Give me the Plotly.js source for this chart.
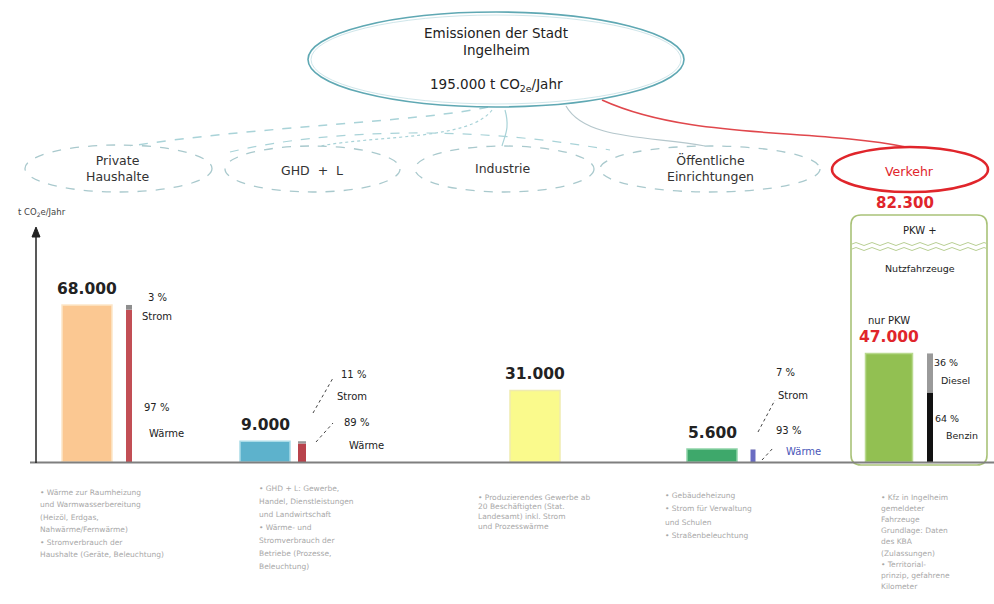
<!DOCTYPE html>
<html>
<head>
<meta charset="utf-8">
<script src="https://cdn.plot.ly/plotly-3.0.1.min.js"></script>
<style>html,body{margin:0;padding:0;background:#fff;}#chart{width:994px;height:604px;}</style>
</head>
<body>
<div id="chart"></div>
<script>
// ---------------- DATA ----------------
const cityTitle = ['Emissionen der Stadt', 'Ingelheim'];
const totalCity = 195000;            // t CO2e/Jahr
const sectors = ['Private Haushalte', 'GHD + L', 'Industrie', 'Öffentliche Einrichtungen', 'Verkehr'];
const sectorLabels = ['Private<br>Haushalte', 'GHD  +  L', 'Industrie', 'Öffentliche<br>Einrichtungen', 'Verkehr'];
const emissions = [68000, 9000, 31000, 5600, 47000];   // Verkehr: nur PKW
const verkehrTotal = 82300;          // PKW + Nutzfahrzeuge
const stromShare = [3, 11, null, 7]; // % Strom
const waermeShare = [97, 89, null, 93]; // % Wärme
const dieselShare = 36;              // % Diesel (PKW)
const benzinShare = 64;              // % Benzin (PKW)
const notes = [
  ['• Wärme zur Raumheizung', 'und Warmwasserbereitung', '(Heizöl, Erdgas,', 'Nahwärme/Fernwärme)', '• Stromverbrauch der', 'Haushalte (Geräte, Beleuchtung)'],
  ['• GHD + L: Gewerbe,', 'Handel, Dienstleistungen', 'und Landwirtschaft', '• Wärme- und', 'Stromverbrauch der', 'Betriebe (Prozesse,', 'Beleuchtung)'],
  ['• Produzierendes Gewerbe ab', '20 Beschäftigten (Stat.', 'Landesamt) inkl. Strom', 'und Prozesswärme'],
  ['• Gebäudeheizung', '• Strom für Verwaltung', 'und Schulen', '• Straßenbeleuchtung'],
  ['• Kfz in Ingelheim', 'gemeldeter', 'Fahrzeuge', 'Grundlage: Daten', 'des KBA', '(Zulassungen)', '• Territorial-', 'prinzip, gefahrene', 'Kilometer']
];

// ---------------- GEOMETRY / STYLE ----------------
const W = 994, H = 604;
const baseY = 462;        // pixel row of the zero line
const tPerPx = 433;       // t CO2e per pixel
const barX = [87, 265, 535, 712, 889];
const barW = [50, 50, 50, 50, 47];
const barColors = ['#FBC892', '#5DB2CC', '#FAFA8C', '#3EA86B', '#92C052'];
const barLines = ['#FDE6C8', '#A9DCE8', '#EFEBB0', '#8ED3A8', '#B9D98E'];
const splitX = [129, 302, null, 753, 930];
const splitW = [6, 8, null, 5, 6];
const waermeColors = ['#C24F55', '#B8434C', null, '#6A6CC2'];
const stromColors = ['#8E8E8E', '#9A9A9A', null, '#A8A8D0'];
const FONT = 'DejaVu Sans, Verdana, sans-serif';
const notePos = [[38, 492, 12.5], [257, 488, 13], [476, 497, 9.8], [663, 495, 13.5], [879, 497, 11.2]];

function fmt(v) { return String(v).replace(/\B(?=(\d{3})+(?!\d))/g, '.'); }

// ---------------- TRACES ----------------
const traces = [];
traces.push({
  type: 'bar', x: barX, y: emissions, width: barW, base: 0,
  marker: {color: barColors, line: {color: barLines, width: 1.5}},
  hoverinfo: 'skip', showlegend: false
});
const sx = [], sw = [], wy = [], sy = [], sb = [], wc = [], sc = [];
for (let i = 0; i < 4; i++) {
  if (stromShare[i] === null) continue;
  sx.push(splitX[i]); sw.push(splitW[i]);
  const w = emissions[i] * waermeShare[i] / 100;
  wy.push(w); sy.push(emissions[i] * stromShare[i] / 100); sb.push(w);
  wc.push(waermeColors[i]); sc.push(stromColors[i]);
}
traces.push({type: 'bar', x: sx, y: wy, width: sw, base: 0, marker: {color: wc}, hoverinfo: 'skip', showlegend: false});
traces.push({type: 'bar', x: sx, y: sy, width: sw, base: sb, marker: {color: sc}, hoverinfo: 'skip', showlegend: false});
const vB = emissions[4] * benzinShare / 100, vD = emissions[4] * dieselShare / 100;
traces.push({type: 'bar', x: [splitX[4]], y: [vB], width: [splitW[4]], base: 0, marker: {color: '#111111'}, hoverinfo: 'skip', showlegend: false});
traces.push({type: 'bar', x: [splitX[4]], y: [vD], width: [splitW[4]], base: [vB], marker: {color: '#9A9A9A'}, hoverinfo: 'skip', showlegend: false});
traces.push({type: 'scatter', x: [], y: [], xaxis: 'x2', yaxis: 'y2', hoverinfo: 'skip', showlegend: false});

// ---------------- SHAPES ----------------
const shapes = [];
const P = {xref: 'x2', yref: 'y2'};
function ell(x0, y0, x1, y1, color, width, dash) {
  shapes.push(Object.assign({type: 'circle', x0, y0, x1, y1, line: {color, width, dash: dash || 'solid'}, fillcolor: 'rgba(255,255,255,0)', layer: 'below'}, P));
}
function path(d, color, width, dash, fill, layer) {
  shapes.push(Object.assign({type: 'path', path: d, line: {color, width, dash: dash || 'solid'}, fillcolor: fill || 'rgba(0,0,0,0)', layer: layer || 'below'}, P));
}
function line(x0, y0, x1, y1, color, width, dash, layer) {
  shapes.push(Object.assign({type: 'line', x0, y0, x1, y1, line: {color, width, dash: dash || 'solid'}, layer: layer || 'above'}, P));
}
const teal = '#A9D3D8';
path('M 488 107 C 420 122, 260 126, 130 146', teal, 1.5, 'dash');
path('M 492 110 C 470 140, 380 135, 320 146', teal, 1.2, 'dot');
path('M 505 110 C 510 128, 505 135, 502 146', teal, 1.2);
path('M 566 106 C 585 140, 650 136, 705 146', '#B5C7CC', 1.2);
path('M 230 152 C 330 128, 480 126, 610 150', teal, 1.2, 'dash');
path('M 602 100 C 690 140, 810 128, 906 147', '#E0474C', 1.5);
ell(308, 12, 684, 107, '#5FA8B3', 1.6);
ell(311, 15, 681, 104, '#CFE6EA', 1);
const ellBoxes = [[25, 145, 212, 192], [225, 146, 400, 192], [415, 146, 594, 192], [600, 146, 820, 192]];
ellBoxes.forEach(b => ell(b[0], b[1], b[2], b[3], '#A9C9CD', 1.3, 'dash'));
ell(832, 147, 988, 192, '#E0252B', 2.6);
path('M 861 215 L 977 215 Q 987 215 987 225 L 987 455 Q 987 465 977 465 L 861 465 Q 851 465 851 455 L 851 225 Q 851 215 861 215 Z', '#A9C278', 1.6, 'solid', 'rgba(255,255,255,0)');
let wave1 = 'M 852 244', wave2 = 'M 852 249';
for (let x = 852, k = 0; x < 986; x += 8, k++) {
  const yo = (k % 2 === 0) ? -3 : 3;
  wave1 += ` Q ${x + 4} ${244 + yo} ${x + 8} 244`;
  wave2 += ` Q ${x + 4} ${249 + yo} ${x + 8} 249`;
}
path(wave1, '#B9CF94', 1); path(wave2, '#B9CF94', 1);
line(30, 462.5, 994, 462.5, '#7F7F7F', 2);
line(36, 463, 36, 234, '#222', 1.5);
path('M 32 237 L 36 227 L 40 237 Z', '#222', 1, 'solid', '#222', 'above');
line(313, 413, 333, 378, '#444', 1, 'dot');
line(316, 442, 333, 423, '#444', 1, 'dot');
line(758, 432, 775, 400, '#444', 1, 'dot');
line(762, 460, 774, 447, '#444', 1, 'dot');

// ---------------- ANNOTATIONS ----------------
const ann = [];
function txt(x, y, text, size, color, opts) {
  ann.push(Object.assign({x, y, text, showarrow: false,
    font: {family: FONT, size, color: color || '#222'}, xanchor: 'center', yanchor: 'middle'}, P, opts || {}));
}
txt(496, 33, cityTitle[0], 13.5);
txt(496, 50, cityTitle[1], 13.5);
txt(496, 85, fmt(totalCity) + ' t CO<sub>2e</sub>/Jahr', 13.5);
const labPos = [[117, 168], [312, 170], [502, 168], [710, 168], [909, 171]];
sectorLabels.forEach((s, i) => txt(labPos[i][0], labPos[i][1], s, 12.5, i === 4 ? '#E0252B' : '#333'));
txt(905, 203, '<b>' + fmt(verkehrTotal) + '</b>', 15, '#E0252B');
txt(42, 212, 't CO<sub>2</sub>e/Jahr', 8.5, '#444');
emissions.forEach((v, i) => {
  ann.push({xref: 'x', yref: 'y', x: barX[i], y: v, text: '<b>' + fmt(v) + '</b>', showarrow: false,
    xanchor: 'center', yanchor: 'bottom', yshift: 5,
    font: {family: FONT, size: 15.5, color: i === 4 ? '#E0252B' : '#222'}});
});
ann.push({xref: 'x', yref: 'y', x: barX[4], y: emissions[4], text: 'nur PKW', showarrow: false,
  xanchor: 'center', yanchor: 'bottom', yshift: 25, font: {family: FONT, size: 10, color: '#222'}});
txt(920, 230, 'PKW +', 10);
txt(920, 268, 'Nutzfahrzeuge', 9.5);
txt(157, 297, stromShare[0] + ' %', 10); txt(157, 316, 'Strom', 10);
txt(156, 407, waermeShare[0] + ' %', 10); txt(166, 433, 'Wärme', 10);
txt(353, 374, stromShare[1] + ' %', 10); txt(352, 396, 'Strom', 10);
txt(356, 422, waermeShare[1] + ' %', 10); txt(366, 445, 'Wärme', 10);
txt(785, 372, stromShare[3] + ' %', 10); txt(793, 395, 'Strom', 10);
txt(788, 430, waermeShare[3] + ' %', 10); txt(803, 451, 'Wärme', 10, '#4A56B8');
txt(946, 362, dieselShare + ' %', 9.5); txt(955, 380, 'Diesel', 9.5);
txt(947, 418, benzinShare + ' %', 9.5); txt(962, 435, 'Benzin', 9.5);
notes.forEach((lines, i) => {
  lines.forEach((l, j) => {
    txt(notePos[i][0], notePos[i][1] + j * notePos[i][2], l, 7.5, '#A8A8A8', {xanchor: 'left'});
  });
});

// ---------------- LAYOUT ----------------
const layout = {
  width: W, height: H, margin: {l: 0, r: 0, t: 0, b: 0, pad: 0},
  paper_bgcolor: '#fff', plot_bgcolor: '#fff',
  barmode: 'overlay', showlegend: false,
  xaxis: {range: [0, W], visible: false, fixedrange: true},
  yaxis: {range: [-(H - baseY) * tPerPx, baseY * tPerPx], visible: false, fixedrange: true},
  xaxis2: {range: [0, W], overlaying: 'x', visible: false, fixedrange: true},
  yaxis2: {range: [H, 0], overlaying: 'y', visible: false, fixedrange: true},
  shapes, annotations: ann
};
Plotly.newPlot('chart', traces, layout, {displayModeBar: false, staticPlot: true});
</script>
</body>
</html>
